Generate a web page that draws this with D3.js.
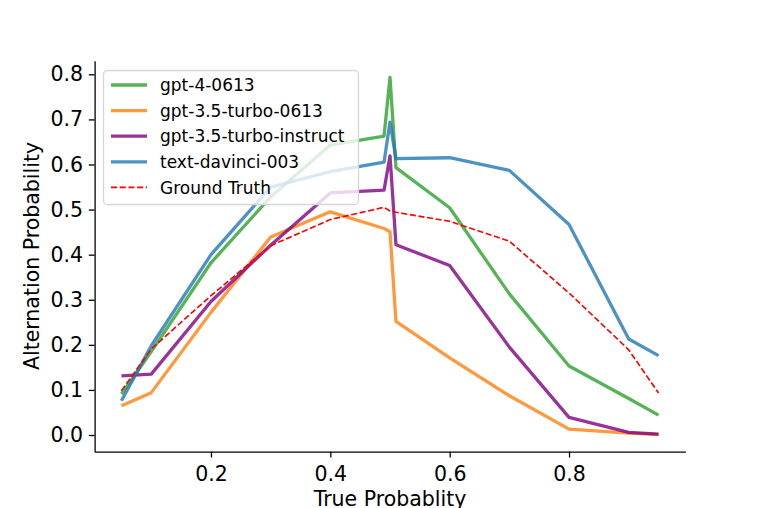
<!DOCTYPE html>
<html>
<head>
<meta charset="utf-8">
<script src="https://cdn.jsdelivr.net/npm/d3@7"></script>
<style>
  body { margin: 0; background: #fff; }
  text { font-family: "DejaVu Sans", sans-serif; }
</style>
</head>
<body>
<div id="chart"></div>
<script>
// true probability used for each run
var trueProb = [0.05, 0.1, 0.2, 0.3, 0.4, 0.49, 0.5, 0.51, 0.6, 0.7, 0.8, 0.9, 0.95];

// alternation probability read per model
var gpt4 = [0.091, 0.185, 0.382, 0.528, 0.643, 0.663, 0.793, 0.593, 0.504, 0.313, 0.153, 0.081, 0.044];
var gpt35 = [0.065, 0.094, 0.272, 0.439, 0.495, 0.458, 0.451, 0.252, 0.171, 0.087, 0.013, 0.004, 0.001];
var gpt35instruct = [0.131, 0.135, 0.296, 0.421, 0.537, 0.543, 0.619, 0.422, 0.376, 0.195, 0.039, 0.006, 0.002];
var davinci = [0.076, 0.198, 0.400, 0.550, 0.584, 0.605, 0.694, 0.613, 0.615, 0.587, 0.467, 0.213, 0.176];
var groundTruth = [0.098, 0.191, 0.309, 0.420, 0.478, 0.505, 0.497, 0.494, 0.474, 0.430, 0.315, 0.189, 0.093];

var seriesNames = ["gpt-4-0613", "gpt-3.5-turbo-0613", "gpt-3.5-turbo-instruct", "text-davinci-003", "Ground Truth"];
var seriesValues = [gpt4, gpt35, gpt35instruct, davinci, groundTruth];
var seriesColors = ["#2ca02c", "#ff7f0e", "#800080", "#1f77b4", "#ff0000"];

var xTicks = [0.2, 0.4, 0.6, 0.8];
var yTicks = [0, 0.1, 0.2, 0.3, 0.4, 0.5, 0.6, 0.7, 0.8];

var W = 761, H = 508;

var x = d3.scaleLinear().domain([0.005, 0.995]).range([94.6, 685.4]);
var y = d3.scaleLinear().domain([-0.037, 0.83]).range([451.7, 60.8]);

var svg = d3.select("#chart")
  .append("svg")
  .attr("width", W)
  .attr("height", H);

// lines
var line = d3.line()
  .x(function(d, i) { return x(trueProb[i]); })
  .y(function(d) { return y(d); });

seriesValues.forEach(function(vals, k) {
  var isTruth = k == 4;
  svg.append("path")
    .datum(vals)
    .attr("d", line)
    .attr("fill", "none")
    .attr("stroke", seriesColors[k])
    .attr("stroke-width", isTruth ? 1.65 : 3.3)
    .attr("stroke-opacity", isTruth ? 1 : 0.8)
    .attr("stroke-dasharray", isTruth ? "6.1,2.6" : null)
    .attr("stroke-linejoin", "round");
});

// axes (left and bottom spines only)
var xAxis = svg.append("g")
  .attr("transform", "translate(0," + y.range()[0] + ")")
  .call(d3.axisBottom(x).tickValues(xTicks).tickFormat(d3.format(".1f"))
    .tickSizeInner(5.8).tickSizeOuter(0).tickPadding(9));
var yAxis = svg.append("g")
  .attr("transform", "translate(" + x.range()[0] + ",0)")
  .call(d3.axisLeft(y).tickValues(yTicks).tickFormat(d3.format(".1f"))
    .tickSizeInner(5.8).tickSizeOuter(0).tickPadding(5.8));

[xAxis, yAxis].forEach(function(ax) {
  ax.selectAll("text")
    .attr("font-size", "20.5px")
    .attr("fill", "#000")
    .style("font-family", "DejaVu Sans");
  ax.selectAll("line").attr("stroke", "#000").attr("stroke-width", 1.3);
  ax.select(".domain").attr("stroke", "#000").attr("stroke-width", 1.3);
});

// axis titles (the bottom one sits at the very edge, as in the original)
svg.append("text")
  .attr("x", (x.range()[0] + x.range()[1]) / 2)
  .attr("y", 506)
  .attr("text-anchor", "middle")
  .attr("font-size", "20.5px")
  .text("True Probablity");

svg.append("text")
  .attr("transform", "translate(32,256) rotate(-90)")
  .attr("text-anchor", "middle")
  .attr("dy", "0.35em")
  .attr("font-size", "20.5px")
  .text("Alternation Probability");

// legend
var legend = svg.append("g");
legend.append("rect")
  .attr("x", 103.5).attr("y", 70.5)
  .attr("width", 255).attr("height", 134)
  .attr("rx", 4)
  .attr("fill", "#fff").attr("fill-opacity", 0.8)
  .attr("stroke", "#d6d6d6").attr("stroke-width", 1.3);

seriesNames.forEach(function(name, k) {
  var isTruth = k == 4;
  var ly = 85 + k * 25.6;
  legend.append("line")
    .attr("x1", 111).attr("x2", 147)
    .attr("y1", ly).attr("y2", ly)
    .attr("stroke", seriesColors[k])
    .attr("stroke-width", isTruth ? 1.65 : 3.3)
    .attr("stroke-opacity", isTruth ? 1 : 0.8)
    .attr("stroke-dasharray", isTruth ? "6.1,2.6" : null);
  legend.append("text")
    .attr("x", 160).attr("y", ly)
    .attr("dy", "0.36em")
    .attr("font-size", "17px")
    .text(name);
});
</script>
</body>
</html>
